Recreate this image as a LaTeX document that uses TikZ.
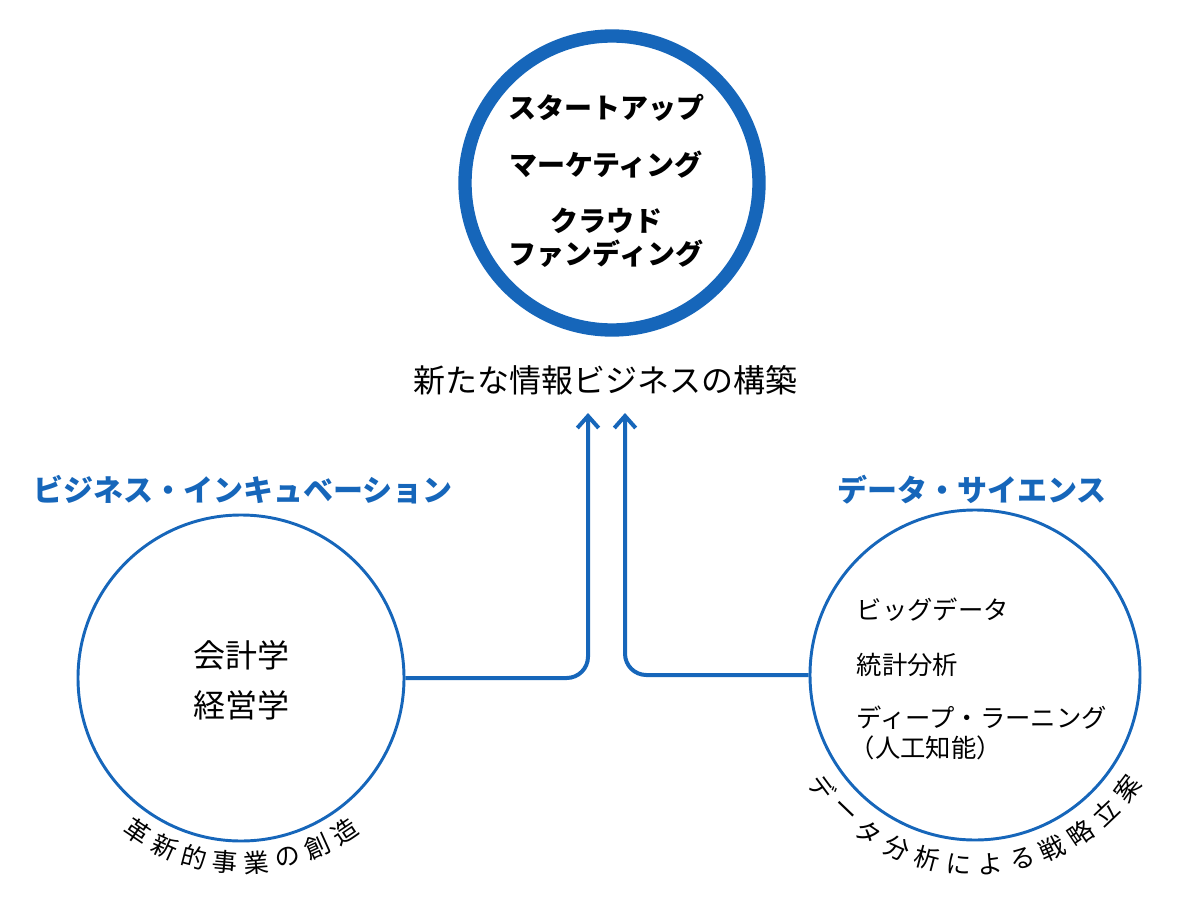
\documentclass[tikz,border=0pt]{standalone}
\usepackage{fontspec}
\setmainfont{Noto Sans CJK JP}
\usetikzlibrary{arrows.meta,calc}
\definecolor{bl}{RGB}{22,102,186}
\tikzset{
 conn/.style={draw=bl,line width=3pt,rounded corners=16pt,-{Straight Barb[length=9pt,width=16pt,line width=3pt]}},
 big/.style={font=\fontsize{21}{25}\selectfont\bfseries},
 head/.style={font=\fontsize{22.5}{26}\selectfont\bfseries,text=bl},
 lbl/.style={font=\fontsize{24}{28}\selectfont},
 item/.style={font=\fontsize{19}{22}\selectfont,anchor=west},
 arcch/.style={font=\fontsize{19}{20}\selectfont}
}
\begin{document}
\begin{tikzpicture}[x=0.75pt,y=-0.75pt]
\useasboundingbox (0,0) rectangle (1200,920);
\node[circle,draw=bl,line width=10pt,minimum size=294*0.75pt] (tc) at (612,183) {};
\node[big] (t1) at (606,108) {スタートアップ};
\node[big] (t2) at (606,165) {マーケティング};
\node[big,align=center] (t3) at (606,238) {クラウド\\ファンディング};
\node[lbl] (goal) at (605,380) {新たな情報ビジネスの構築};
\node[head] (hl) at (243,490) {ビジネス・インキュベーション};
\node[head] (hr) at (972,490) {データ・サイエンス};
\node[circle,draw=bl,line width=2.2pt,minimum size=326*0.75pt] (lc) at (241,678) {};
\node[circle,draw=bl,line width=2.2pt,minimum size=330*0.75pt] (rc) at (975,675) {};
\node[lbl] (l1) at (241,655) {会計学};
\node[lbl] (l2) at (241,705) {経営学};
\node[item] (r1) at (852,610) {ビッグデータ};
\node[item] (r2) at (852,665) {統計分析};
\node[item] (r3) at (852,718) {ディープ・ラーニング};
\node[item] (r4) at (845,748) {（人工知能）};
\coordinate (la) at (588,413);
\coordinate (ra) at (625,413);
\draw[conn] (lc.east) -| (la);
\draw[conn] (rc.west) -| (ra);
\foreach \c [count=\i from 0] in {革,新,的,事,業,の,創,造}{
  \pgfmathsetmacro{\a}{236+\i*9.7}
  \node[arcch,rotate=\a-270] at ($(241,678)+(-\a:185)$) {\c};
}
\foreach \c [count=\i from 0] in {デ,ー,タ,分,析,に,よ,る,戦,略,立,案}{
  \pgfmathsetmacro{\a}{216.5+\i*9.7}
  \node[arcch,rotate=\a-270] at ($(975,675)+(-\a:190)$) {\c};
}
\end{tikzpicture}
\end{document}
